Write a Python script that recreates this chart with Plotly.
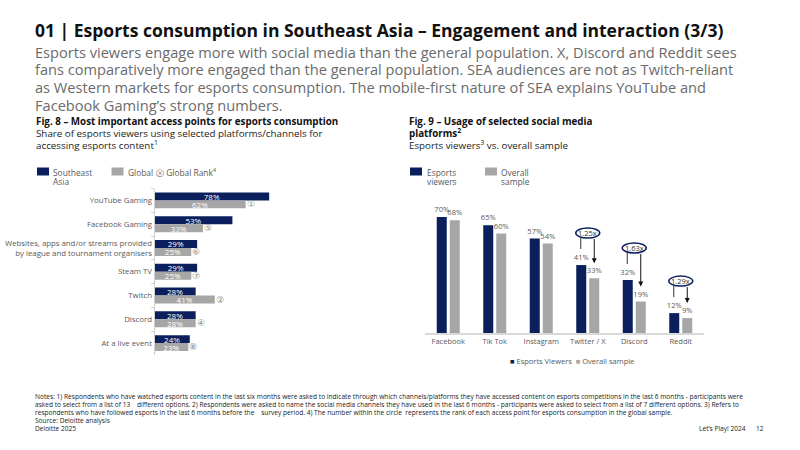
import plotly.graph_objects as go

# ---------------- data ----------------
# Fig. 8
access_points = [
    "YouTube Gaming",
    "Facebook Gaming",
    "Websites, apps and/or streams provided<br>by league and tournament organisers",
    "Steam TV",
    "Twitch",
    "Discord",
    "At a live event",
]
sea_share = [78, 53, 29, 29, 28, 28, 24]
global_share = [62, 33, 25, 25, 41, 28, 23]
global_rank = [1, 5, 6, 7, 2, 4, 8]

# Fig. 9
platforms = ["Facebook", "Tik Tok", "Instagram", "Twitter / X", "Discord", "Reddit"]
esports_viewers = [70, 65, 57, 41, 32, 12]
overall_sample = [68, 60, 54, 33, 19, 9]
ratio_labels = [None, None, None, "1.25x", "1.63x", "1.29x"]

# ---------------- style ----------------
W, H = 800, 450
NAVY = "#0a1f5c"
GREY = "#a6a6a6"
TXT = "#595959"
FONT = "Open Sans"
CIRCLED = {1: "①", 2: "②", 3: "③", 4: "④", 5: "⑤", 6: "⑥", 7: "⑦", 8: "⑧"}


def px(x):
    return x / W


def py(y):
    return 1 - y / H


fig = go.Figure()

fig.add_trace(go.Bar(
    y=access_points, x=sea_share, orientation="h", name="Southeast Asia",
    marker=dict(color=NAVY, line=dict(width=0)),
    texttemplate="%{x}%", textposition="inside", insidetextanchor="middle",
    textfont=dict(color="white", size=8, family=FONT), constraintext="none",
    xaxis="x", yaxis="y", showlegend=False, cliponaxis=False,
))
fig.add_trace(go.Bar(
    y=access_points, x=global_share, orientation="h", name="Global",
    marker=dict(color=GREY, line=dict(width=0)),
    texttemplate="%{x}%", textposition="inside", insidetextanchor="middle",
    textfont=dict(color="white", size=8, family=FONT), constraintext="none",
    xaxis="x", yaxis="y", showlegend=False, cliponaxis=False,
))
fig.add_trace(go.Bar(
    x=platforms, y=esports_viewers, name="Esports Viewers",
    marker=dict(color=NAVY, line=dict(width=0)),
    texttemplate="%{y}%", textposition="outside", textangle=0,
    textfont=dict(color=TXT, size=7.5, family=FONT), constraintext="none",
    xaxis="x2", yaxis="y2", showlegend=False, cliponaxis=False,
))
fig.add_trace(go.Bar(
    x=platforms, y=overall_sample, name="Overall sample",
    marker=dict(color=GREY, line=dict(width=0)),
    texttemplate="%{y}%", textposition="outside", textangle=0,
    textfont=dict(color=TXT, size=7.5, family=FONT), constraintext="none",
    xaxis="x2", yaxis="y2", showlegend=False, cliponaxis=False,
))

L_X0, L_PX_PER = 154.5, 1.47
L_Y0, L_Y1 = 188.5, 355.0
R_X0, R_X1 = 425.0, 704.0
R_BASE, R_PX_PER = 333.0, 1.657
R_TOP_VAL = 80

fig.update_layout(
    width=W, height=H, autosize=False,
    margin=dict(l=0, r=0, t=0, b=0),
    paper_bgcolor="white", plot_bgcolor="white",
    font=dict(family=FONT, color=TXT),
    barmode="group",
    xaxis=dict(domain=[px(L_X0), px(L_X0 + 100 * L_PX_PER)], range=[0, 100],
               visible=False, anchor="y", fixedrange=True),
    yaxis=dict(domain=[py(L_Y1), py(L_Y0)], type="category", autorange="reversed",
               showline=True, linecolor="#d0d0d0", linewidth=1,
               ticks="outside", tickson="boundaries", ticklen=3, tickcolor="#d0d0d0",
               tickfont=dict(size=7.8, color=TXT, family=FONT),
               showgrid=False, zeroline=False, anchor="x", fixedrange=True),
    xaxis2=dict(domain=[px(R_X0), px(R_X1)], type="category",
                showline=True, linecolor="#d9d9d9", linewidth=1.5, ticks="",
                tickfont=dict(size=7.5, color=TXT, family=FONT),
                showgrid=False, zeroline=False, anchor="y2", fixedrange=True),
    yaxis2=dict(domain=[py(R_BASE), py(R_BASE - R_TOP_VAL * R_PX_PER)],
                range=[0, R_TOP_VAL], visible=False, anchor="x2", fixedrange=True),
    bargap=0.33, bargroupgap=0.0,
)

cat_w = (R_X1 - R_X0) / len(platforms)
bw = 10 / cat_w
gap = 3 / cat_w
fig.data[2].update(width=bw, offset=-bw - gap / 2)
fig.data[3].update(width=bw, offset=gap / 2)

ann = []
shapes = []

ann.append(dict(text="<b>01 | Esports consumption in Southeast Asia – Engagement and interaction (3/3)</b>",
                x=px(33), y=py(30.3), xref="paper", yref="paper", xanchor="left", yanchor="middle",
                showarrow=False, font=dict(size=17.5, color="#111111", family=FONT)))
sub_lines = [
    "Esports viewers engage more with social media than the general population. X, Discord and Reddit sees",
    "fans comparatively more engaged than the general population. SEA audiences are not as Twitch-reliant",
    "as Western markets for esports consumption. The mobile-first nature of SEA explains YouTube and",
    "Facebook Gaming’s strong numbers.",
]
for i, s in enumerate(sub_lines):
    ann.append(dict(text=s, x=px(33), y=py(51.7 + i * 17.6), xref="paper", yref="paper",
                    xanchor="left", yanchor="middle", showarrow=False,
                    font=dict(size=14.6, color="#6b6b6b", family=FONT)))

HFS = 9.8
ann.append(dict(text="<b>Fig. 8 – Most important access points for esports consumption</b>",
                x=px(34), y=py(121), xref="paper", yref="paper", xanchor="left", yanchor="middle",
                showarrow=False, font=dict(size=HFS, color="#111111", family=FONT)))
ann.append(dict(text="Share of esports viewers using selected platforms/channels for",
                x=px(34), y=py(133), xref="paper", yref="paper", xanchor="left", yanchor="middle",
                showarrow=False, font=dict(size=HFS, color="#222222", family=FONT)))
ann.append(dict(text="accessing esports content<sup>1</sup>",
                x=px(34), y=py(144.5), xref="paper", yref="paper", xanchor="left", yanchor="middle",
                showarrow=False, font=dict(size=HFS, color="#222222", family=FONT)))
ann.append(dict(text="<b>Fig. 9 – Usage of selected social media</b>",
                x=px(407), y=py(121), xref="paper", yref="paper", xanchor="left", yanchor="middle",
                showarrow=False, font=dict(size=HFS, color="#111111", family=FONT)))
ann.append(dict(text="<b>platforms<sup>2</sup></b>",
                x=px(407), y=py(133), xref="paper", yref="paper", xanchor="left", yanchor="middle",
                showarrow=False, font=dict(size=HFS, color="#111111", family=FONT)))
ann.append(dict(text="Esports viewers<sup>3</sup> vs. overall sample",
                x=px(407), y=py(145), xref="paper", yref="paper", xanchor="left", yanchor="middle",
                showarrow=False, font=dict(size=HFS, color="#222222", family=FONT)))


def swatch(x0, y0, color):
    shapes.append(dict(type="rect", xref="paper", yref="paper",
                       x0=px(x0), x1=px(x0 + 12), y0=py(y0 + 8), y1=py(y0),
                       fillcolor=color, line=dict(width=0)))


def legtext(x, y, t):
    ann.append(dict(text=t, x=px(x), y=py(y), xref="paper", yref="paper", xanchor="left",
                    yanchor="middle", showarrow=False, align="left",
                    font=dict(size=8.4, color=TXT, family=FONT)))


swatch(37, 167.5, NAVY)
legtext(51, 172, "Southeast")
legtext(51, 182, "Asia")
swatch(111.5, 167.5, GREY)
legtext(126, 172, "Global")
legtext(154, 172, "ⓧ Global Rank<sup>4</sup>")
swatch(410, 167.5, NAVY)
legtext(424.5, 172, "Esports")
legtext(424.5, 182, "viewers")
swatch(485, 167.5, GREY)
legtext(499, 172, "Overall")
legtext(499, 182, "sample")

for cat, g, r in zip(access_points, global_share, global_rank):
    ann.append(dict(text=CIRCLED[r], x=g, y=cat, xref="x", yref="y", xanchor="left",
                    yanchor="middle", xshift=-1, yshift=-4, showarrow=False,
                    font=dict(size=9, color="#8c8c8c", family="DejaVu Sans")))

for i, (cat, e, o, lab) in enumerate(zip(platforms, esports_viewers, overall_sample, ratio_labels)):
    if lab is None:
        continue
    shapes.append(dict(type="circle", xref="x2", yref="y2", xsizemode="pixel", ysizemode="pixel",
                       xanchor=i, yanchor=e, x0=-12, x1=12, y0=27, y1=37,
                       line=dict(color=NAVY, width=1.5), fillcolor="white", layer="above"))
    ann.append(dict(text=lab, x=i, y=e, xref="x2", yref="y2", yshift=32, showarrow=False,
                    xanchor="center", yanchor="middle",
                    font=dict(size=7.5, color="#333333", family=FONT)))
    shapes.append(dict(type="line", xref="x2", yref="y2", xsizemode="pixel", ysizemode="pixel",
                       xanchor=i, yanchor=e, x0=-7, x1=-7, y0=16, y1=28,
                       line=dict(color="#333333", width=1)))
    dist = (e - o) * R_PX_PER + 12.5
    ann.append(dict(text="", x=i, y=o, xref="x2", yref="y2", xshift=6.5, yshift=15,
                    showarrow=True, arrowhead=2, arrowsize=1, arrowwidth=1, arrowcolor="#111111",
                    axref="pixel", ayref="pixel", ax=0, ay=-dist, standoff=0))

ann.append(dict(text=f"<span style='color:{NAVY}'>■</span> Esports Viewers  "
                     f"<span style='color:{GREY}'>■</span> Overall sample",
                x=px(508), y=py(361), xref="paper", yref="paper", xanchor="left", yanchor="middle",
                showarrow=False, font=dict(size=7.5, color=TXT, family=FONT)))

notes = [
    "Notes: 1) Respondents who have watched esports content in the last six months were asked to indicate through which channels/platforms they have accessed content on esports competitions in the last 6 months - participants were",
    "asked to select from a list of 13    different options. 2) Respondents were asked to name the social media channels they have used in the last 6 months - participants were asked to select from a list of 7 different options. 3) Refers to",
    "respondents who have followed esports in the last 6 months before the    survey period. 4) The number within the circle  represents the rank of each access point for esports consumption in the global sample.",
    "Source: Deloitte analysis",
    "Deloitte 2025",
]
for i, s in enumerate(notes):
    ann.append(dict(text=s, x=px(33), y=py(396.5 + i * 8), xref="paper", yref="paper",
                    xanchor="left", yanchor="middle", showarrow=False,
                    font=dict(size=6.6, color="#222222", family=FONT)))
ann.append(dict(text="Let’s Play! 2024", x=px(748), y=py(428.5), xref="paper", yref="paper",
                xanchor="right", yanchor="middle", showarrow=False,
                font=dict(size=6.6, color="#222222", family=FONT)))
ann.append(dict(text="12", x=px(766), y=py(428.5), xref="paper", yref="paper",
                xanchor="right", yanchor="middle", showarrow=False,
                font=dict(size=6.6, color="#222222", family=FONT)))

fig.update_layout(annotations=ann, shapes=shapes)
fig.write_html("out.html")
